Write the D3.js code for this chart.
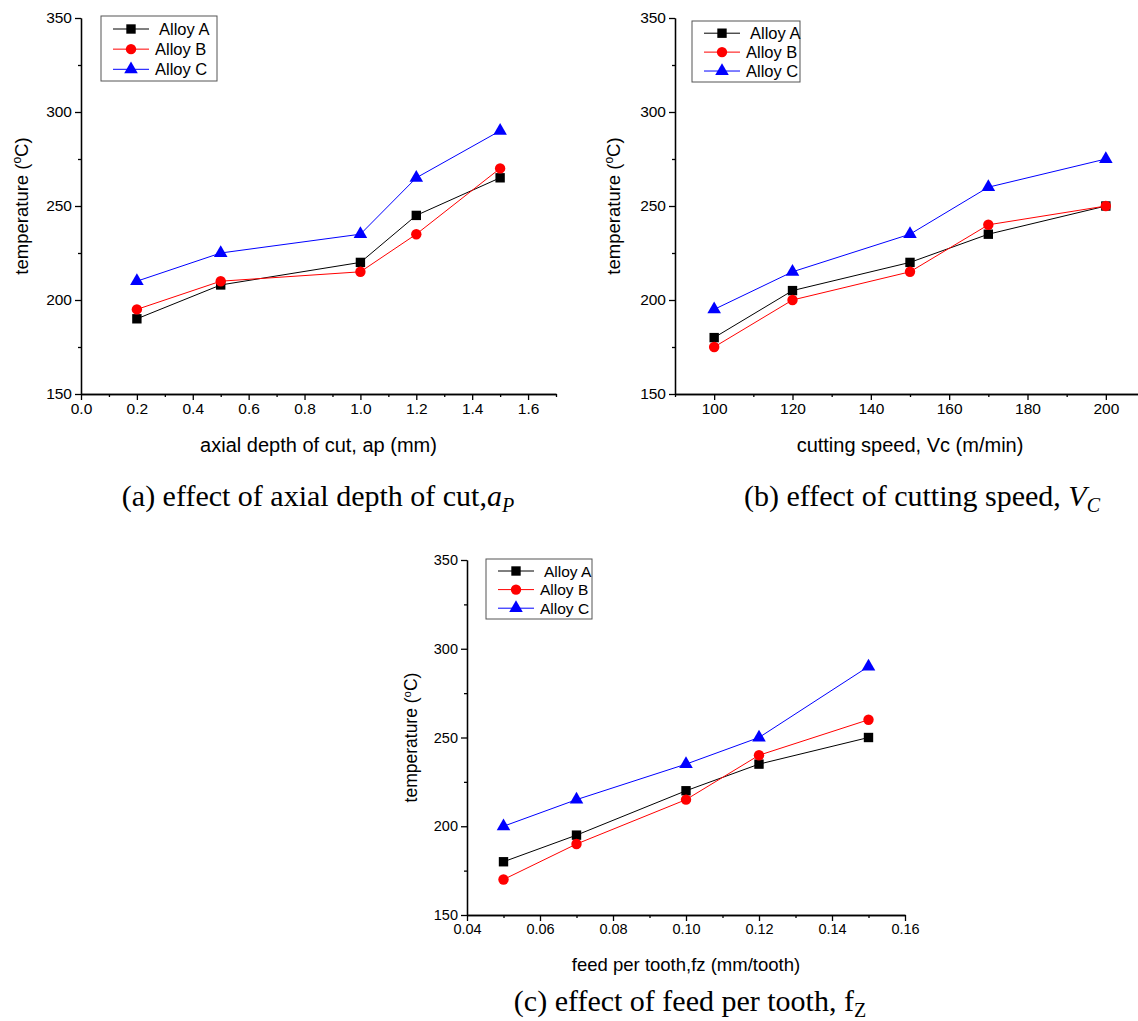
<!DOCTYPE html>
<html>
<head>
<meta charset="utf-8">
<script src="https://cdn.jsdelivr.net/npm/d3@7"></script>
<style>
  body { margin: 0; background: #fff; }
  svg { display: block; font-family: Arial, "Liberation Sans", sans-serif; }
</style>
</head>
<body>
<div id="chart"></div>
<script>
// values
var alloys = ["Alloy A", "Alloy B", "Alloy C"];

// (a) axial depth of cut
var depthOfCut = [0.2, 0.5, 1.0, 1.2, 1.5];
var depthA = [190, 208, 220, 245, 265];
var depthB = [195, 210, 215, 235, 270];
var depthC = [210, 225, 235, 265, 290];

// (b) cutting speed
var cuttingSpeed = [100, 120, 150, 170, 200];
var speedA = [180, 205, 220, 235, 250];
var speedB = [175, 200, 215, 240, 250];
var speedC = [195, 215, 235, 260, 275];

// (c) feed per tooth
var feedPerTooth = [0.05, 0.07, 0.10, 0.12, 0.15];
var feedA = [180, 195, 220, 235, 250];
var feedB = [170, 190, 215, 240, 260];
var feedC = [200, 215, 235, 250, 290];

var tempTicks = [150, 200, 250, 300, 350];
var depthTicks = [0.0, 0.2, 0.4, 0.6, 0.8, 1.0, 1.2, 1.4, 1.6];
var speedTicks = [100, 120, 140, 160, 180, 200];
var feedTicks = [0.04, 0.06, 0.08, 0.10, 0.12, 0.14, 0.16];

function main(){
  var svg = d3.select("#chart")
    .append("svg")
    .attr("width", 1138)
    .attr("height", 1021);

  var colors = ["#000000", "#ff0000", "#0000ff"];

  // one panel = axes + three series + legend
  function panel(opt) {
    var x = d3.scaleLinear().domain(opt.xDomain).range([opt.left, opt.right]);
    var y = d3.scaleLinear().domain([150, 350]).range([opt.bottom, opt.top]);
    var g = svg.append("g");

    // y axis, major + minor ticks
    g.append("g")
      .attr("transform", "translate(" + opt.left + ",0)")
      .call(d3.axisLeft(y).tickValues(tempTicks).tickSize(6).tickSizeOuter(0))
      .call(style, opt.tickFont);
    g.append("g")
      .attr("transform", "translate(" + opt.left + ",0)")
      .call(d3.axisLeft(y).tickValues([175, 225, 275, 325]).tickSize(3).tickFormat("").tickSizeOuter(0))
      .call(style, opt.tickFont);

    // x axis
    g.append("g")
      .attr("transform", "translate(0," + opt.bottom + ")")
      .call(d3.axisBottom(x).tickValues(opt.xTicks).tickSize(6).tickFormat(d3.format(opt.fmt)).tickSizeOuter(0))
      .call(style, opt.tickFont);
    g.append("g")
      .attr("transform", "translate(0," + opt.bottom + ")")
      .call(d3.axisBottom(x).tickValues(opt.xMinor).tickSize(3).tickFormat("").tickSizeOuter(0))
      .call(style, opt.tickFont);

    // axis titles
    var yt = g.append("text")
      .attr("transform", "translate(" + opt.yLabelX + "," + ((opt.top + opt.bottom) / 2) + ") rotate(-90)")
      .attr("text-anchor", "middle")
      .attr("font-size", opt.yTitleFont + "px")
      .attr("fill", "#000");
    yt.append("tspan").text("temperature (");
    yt.append("tspan").attr("baseline-shift", "super").attr("font-size", (opt.yTitleFont * 0.65) + "px").text("o");
    yt.append("tspan").text("C)");

    g.append("text")
      .attr("x", (opt.left + opt.right) / 2)
      .attr("y", opt.bottom + opt.xLabelDy)
      .attr("text-anchor", "middle")
      .attr("font-size", opt.xTitleFont + "px")
      .text(opt.xLabel);

    // series
    var line = d3.line()
      .x(function(d){ return x(d[0]); })
      .y(function(d){ return y(d[1]); });

    opt.series.forEach(function(vals, i) {
      var pts = opt.xs.map(function(v, j){ return [v, vals[j]]; });
      g.append("path")
        .datum(pts)
        .attr("fill", "none")
        .attr("stroke", colors[i])
        .attr("stroke-width", 1)
        .attr("d", line);
      g.selectAll(".m" + i)
        .data(pts)
        .enter()
        .append("path")
        .attr("transform", function(d){ return "translate(" + x(d[0]) + "," + y(d[1]) + ")"; })
        .attr("d", marker(i))
        .attr("fill", colors[i]);
    });

    // legend
    var L = opt.legend; // [x, y, w, h]
    var lg = g.append("g").attr("transform", "translate(" + L[0] + "," + L[1] + ")");
    lg.append("rect")
      .attr("width", L[2])
      .attr("height", L[3])
      .attr("fill", "#fff")
      .attr("stroke", "#555")
      .attr("stroke-width", 1);
    alloys.forEach(function(name, i) {
      var cy = L[3] * (0.2 + i * 0.31);
      lg.append("line")
        .attr("x1", 12).attr("x2", 48)
        .attr("y1", cy).attr("y2", cy)
        .attr("stroke", colors[i]);
      lg.append("path")
        .attr("transform", "translate(30," + cy + ")")
        .attr("d", marker(i))
        .attr("fill", colors[i]);
      lg.append("text")
        .attr("x", i == 0 ? 58 : 54)
        .attr("y", cy + opt.legendFont * 0.36)
        .attr("font-size", opt.legendFont + "px")
        .text(name);
    });
  }

  function marker(i) {
    var types = [d3.symbolSquare, d3.symbolCircle, d3.symbolTriangle];
    var sizes = [88, 85, 80];
    return d3.symbol().type(types[i]).size(sizes[i])();
  }

  function style(sel, fs) {
    sel.select(".domain").attr("stroke", "#000").attr("stroke-width", 1.3);
    sel.selectAll(".tick line").attr("stroke", "#000").attr("stroke-width", 1.3);
    sel.selectAll(".tick text")
      .attr("font-size", fs + "px")
      .attr("font-family", "Arial, 'Liberation Sans', sans-serif")
      .attr("fill", "#000");
  }

  panel({
    xDomain: [0, 1.7], left: 81, right: 556, top: 18, bottom: 394,
    xTicks: depthTicks, xMinor: [0.1, 0.3, 0.5, 0.7, 0.9, 1.1, 1.3, 1.5, 1.7], fmt: ".1f",
    xs: depthOfCut, series: [depthA, depthB, depthC],
    tickFont: 15.5, xTitleFont: 20, yTitleFont: 18.5, legendFont: 16.5, xLabelDy: 58,
    yLabelX: 28, xLabel: "axial depth of cut, ap (mm)", legend: [101, 16, 116, 65]
  });

  panel({
    xDomain: [90, 210], left: 675, right: 1145, top: 18, bottom: 394,
    xTicks: speedTicks, xMinor: [90, 110, 130, 150, 170, 190, 210], fmt: "d",
    xs: cuttingSpeed, series: [speedA, speedB, speedC],
    tickFont: 15.5, xTitleFont: 20, yTitleFont: 18.5, legendFont: 16.5, xLabelDy: 58,
    yLabelX: 620, xLabel: "cutting speed, Vc (m/min)", legend: [692, 21, 108, 61]
  });

  panel({
    xDomain: [0.04, 0.16], left: 467, right: 905, top: 560, bottom: 915,
    xTicks: feedTicks, xMinor: [0.05, 0.07, 0.09, 0.11, 0.13, 0.15], fmt: ".2f",
    xs: feedPerTooth, series: [feedA, feedB, feedC],
    tickFont: 14.5, xTitleFont: 18.5, yTitleFont: 17.5, legendFont: 15.5, xLabelDy: 56,
    yLabelX: 417, xLabel: "feed per tooth,fz (mm/tooth)", legend: [486, 559, 106, 60]
  });

  // captions under the panels
  var cap = svg.append("g")
    .attr("font-family", "'Liberation Serif', 'Times New Roman', serif")
    .attr("font-size", "30px")
    .attr("text-anchor", "middle")
    .attr("fill", "#000");

  var ca = cap.append("text").attr("x", 318).attr("y", 506);
  ca.append("tspan").text("(a) effect of axial depth of cut,");
  ca.append("tspan").attr("font-style", "italic").text("a");
  ca.append("tspan").attr("font-style", "italic").attr("font-size", "20px").attr("dy", 6).text("P");

  var cb = cap.append("text").attr("x", 922).attr("y", 506);
  cb.append("tspan").text("(b) effect of cutting speed, ");
  cb.append("tspan").attr("font-style", "italic").text("V");
  cb.append("tspan").attr("font-style", "italic").attr("font-size", "20px").attr("dy", 6).text("C");

  var cc = cap.append("text").attr("x", 690).attr("y", 1011);
  cc.append("tspan").text("(c) effect of feed per tooth, f");
  cc.append("tspan").attr("font-size", "20px").attr("dy", 6).text("Z");
}
main();
</script>
</body>
</html>
